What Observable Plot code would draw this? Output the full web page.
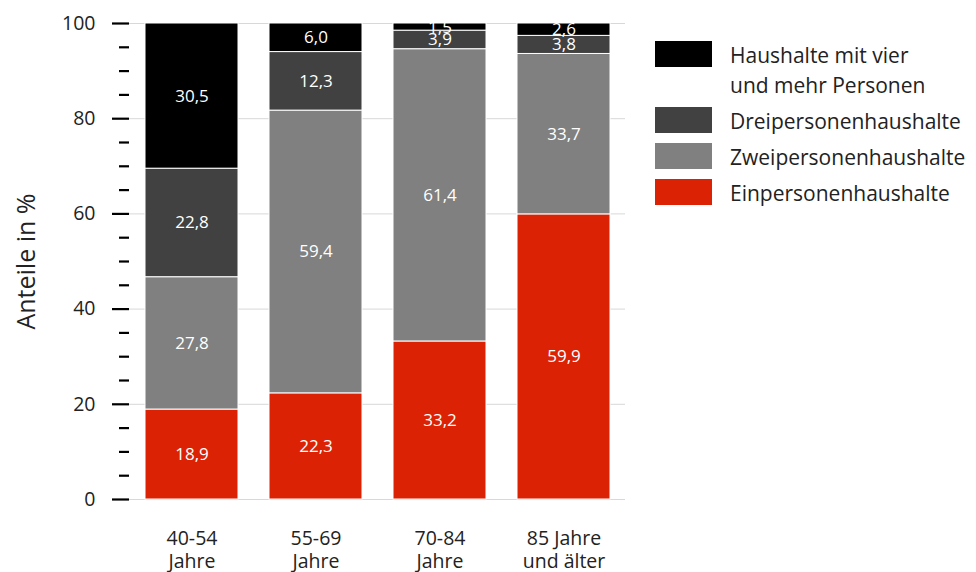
<!DOCTYPE html>
<html><head><meta charset="utf-8">
<script src="https://cdn.jsdelivr.net/npm/d3@7"></script>
<script src="https://cdn.jsdelivr.net/npm/@observablehq/plot@0.6"></script>
<style>
body{margin:0;background:#fff;font-family:"Open Sans",sans-serif;}
#wrap{position:relative;width:976px;height:572px;}
#legend{position:absolute;left:655px;top:41px;color:#222;font-size:21px;}
.item{display:flex;align-items:flex-start;margin-bottom:7px;}
.sw{width:57px;height:26px;margin-right:18px;flex:none;}
.lab{line-height:30px;margin-top:-1px;white-space:nowrap;}
</style></head>
<body><div id="wrap"><div id="legend"></div></div>
<script>
const ageGroups = ["40-54\nJahre", "55-69\nJahre", "70-84\nJahre", "85 Jahre\nund älter"];
const householdTypes = ["Einpersonenhaushalte", "Zweipersonenhaushalte", "Dreipersonenhaushalte", "Haushalte mit vier und mehr Personen"];
const legendLabels = ["Haushalte mit vier\nund mehr Personen", "Dreipersonenhaushalte", "Zweipersonenhaushalte", "Einpersonenhaushalte"];
const colors = ["#dc2204", "#808080", "#414141", "#000000"];
const einValues = [18.9, 22.3, 33.2, 59.9];
const zweiValues = [27.8, 59.4, 61.4, 33.7];
const dreiValues = [22.8, 12.3, 3.9, 3.8];
const vierValues = [30.5, 6.0, 1.5, 2.6];
const yTicks = [0, 20, 40, 60, 80, 100];

const series = [einValues, zweiValues, dreiValues, vierValues];
const data = [];
householdTypes.forEach((t, i) => ageGroups.forEach((g, j) => data.push({group: g, type: t, value: series[i][j]})));
const fmt = v => v.toFixed(1).replace(".", ",");
const minor = d3.range(0, 101, 5).filter(v => v % 20 !== 0);

const chart = Plot.plot({
  width: 976, height: 572,
  marginLeft: 129, marginRight: 351, marginTop: 23, marginBottom: 73,
  style: {fontFamily: "'Open Sans', sans-serif", color: "#222"},
  x: {domain: ageGroups, paddingInner: 0.25, paddingOuter: 0.125, label: null},
  y: {domain: [0, 100], label: null},
  color: {domain: householdTypes, range: colors},
  marks: [
    Plot.gridY(yTicks, {stroke: "#d8d8d8", strokeOpacity: 1, strokeWidth: 1}),
    Plot.barY(data, Plot.stackY({x: "group", y: "value", z: "type", order: householdTypes, fill: "type", stroke: "white", strokeWidth: 1})),
    Plot.textY(data, Plot.stackY({x: "group", y: "value", z: "type", order: householdTypes, text: d => fmt(d.value), fill: "white", fontSize: 17})),
    Plot.axisY({ticks: yTicks, tickSize: 17, tickPadding: 17, strokeWidth: 2.2, stroke: "black", fontSize: 19.5, label: "Anteile in %", labelAnchor: "center", labelArrow: "none", labelOffset: 112}),
    Plot.axisY({ticks: minor, tickSize: 10, strokeWidth: 2.2, stroke: "black", text: null, label: null}),
    Plot.axisX({tickSize: 0, tickPadding: 29, fontSize: 19.5, lineHeight: 1.17, label: null})
  ]
});
document.getElementById("wrap").prepend(chart);
const lbl = [...chart.querySelectorAll("text")].find(t => t.textContent === "Anteile in %");
if (lbl) lbl.setAttribute("font-size", "25");

const legend = document.getElementById("legend");
legendLabels.forEach((l, i) => {
  const it = document.createElement("div"); it.className = "item";
  const sw = document.createElement("div"); sw.className = "sw"; sw.style.background = colors[3 - i];
  const tx = document.createElement("div"); tx.className = "lab"; tx.innerHTML = l.replace("\n", "<br>");
  it.append(sw, tx); legend.append(it);
});
</script></body></html>
